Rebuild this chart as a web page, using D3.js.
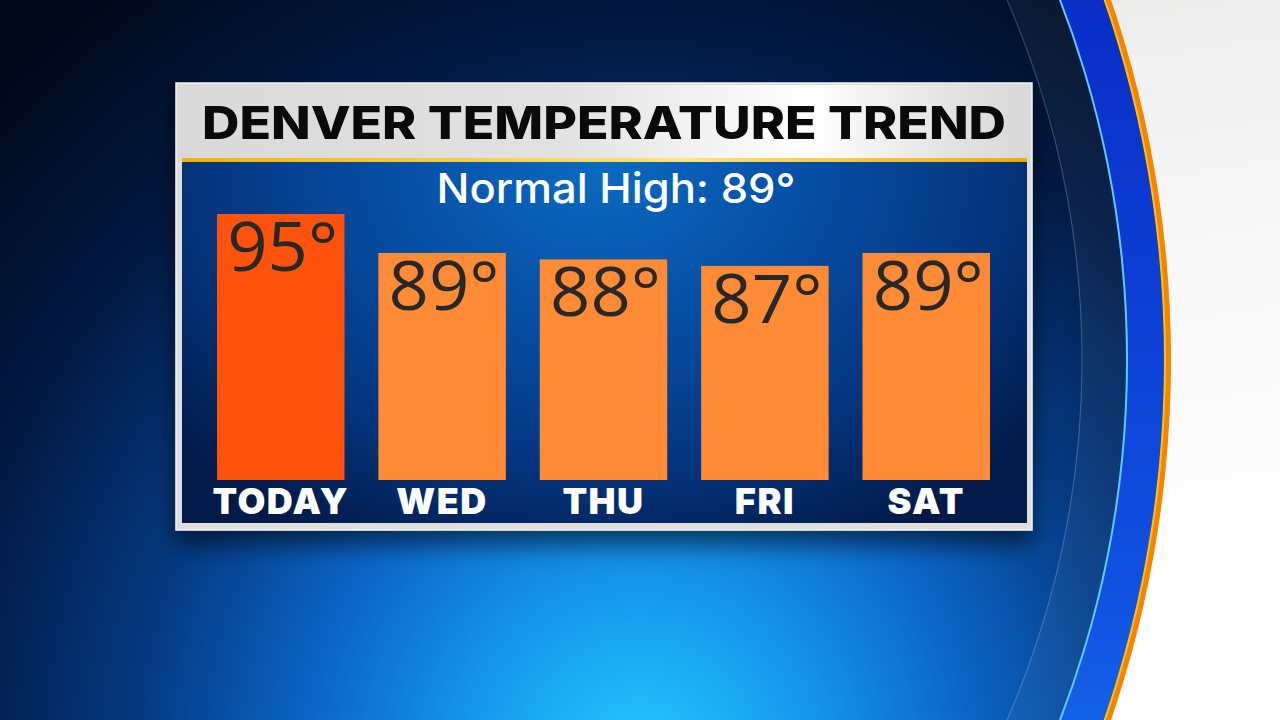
<!DOCTYPE html>
<html>
<head>
<meta charset="utf-8">
<script src="https://cdn.jsdelivr.net/npm/d3@7"></script>
<style>
  html, body { margin: 0; padding: 0; background: #000; overflow: hidden; }
  svg { display: block; }
</style>
</head>
<body>
<svg id="chart" width="1280" height="720"></svg>
<script>
// ---- data ----
const titleText = "DENVER TEMPERATURE TREND";
const normalHigh = 89;
const days = ["TODAY", "WED", "THU", "FRI", "SAT"];
const highs = [95, 89, 88, 87, 89];

const W = 1280, H = 720;
const svg = d3.select("#chart");
const defs = svg.append("defs");

// ---- gradients ----
const bg = defs.append("radialGradient").attr("id", "bgGrad")
  .attr("gradientUnits", "userSpaceOnUse")
  .attr("cx", 640).attr("cy", 770).attr("r", 960)
  .attr("gradientTransform", "translate(640,770) scale(0.95,1) translate(-640,-770)");
[[0, "#27ccff"], [0.16, "#17a0f0"], [0.36, "#0b66c8"], [0.55, "#053a82"], [0.76, "#021a44"], [1, "#01081a"]]
  .forEach(([o, c]) => bg.append("stop").attr("offset", o).attr("stop-color", c));

const white = defs.append("linearGradient").attr("id", "whiteGrad")
  .attr("x1", 0).attr("y1", 0).attr("x2", 0.3).attr("y2", 1);
[[0, "#e4e4e2"], [0.5, "#f6f6f6"], [1, "#ffffff"]]
  .forEach(([o, c]) => white.append("stop").attr("offset", o).attr("stop-color", c));

const band = defs.append("linearGradient").attr("id", "bandGrad")
  .attr("x1", 0).attr("y1", 0).attr("x2", 0).attr("y2", 1);
[[0, "#0520a8"], [0.35, "#0a2fc8"], [0.6, "#1050e0"], [0.8, "#1a86f2"], [1, "#22c4ff"]]
  .forEach(([o, c]) => band.append("stop").attr("offset", o).attr("stop-color", c));

const panelG = defs.append("radialGradient").attr("id", "panelGrad")
  .attr("gradientUnits", "userSpaceOnUse")
  .attr("cx", 600).attr("cy", 170).attr("r", 560)
  .attr("gradientTransform", "translate(600,170) scale(1,0.75) translate(-600,-170)");
[[0, "#0a6ac0"], [0.35, "#0650a6"], [0.7, "#043680"], [1, "#021a48"]]
  .forEach(([o, c]) => panelG.append("stop").attr("offset", o).attr("stop-color", c));

const titleG = defs.append("linearGradient").attr("id", "titleGrad")
  .attr("x1", 0).attr("y1", 0).attr("x2", 1).attr("y2", 0);
[[0, "#d9d9d9"], [0.45, "#e2e2e2"], [0.74, "#ffffff"], [0.9, "#e4e4e4"], [1, "#d8d8d8"]]
  .forEach(([o, c]) => titleG.append("stop").attr("offset", o).attr("stop-color", c));

const goldG = defs.append("linearGradient").attr("id", "goldGrad")
  .attr("x1", 0).attr("y1", 0).attr("x2", 1).attr("y2", 0);
[[0, "#f2b400"], [0.6, "#ffe37a"], [0.85, "#f5c030"], [1, "#eeaa00"]]
  .forEach(([o, c]) => goldG.append("stop").attr("offset", o).attr("stop-color", c));

const shadow = defs.append("filter").attr("id", "shadow")
  .attr("x", -0.1).attr("y", -0.1).attr("width", 1.2).attr("height", 1.3);
shadow.append("feGaussianBlur").attr("in", "SourceAlpha").attr("stdDeviation", 12);
shadow.append("feOffset").attr("dy", 14).attr("result", "b");
shadow.append("feComponentTransfer").append("feFuncA").attr("type", "linear").attr("slope", 0.55);
const merge = shadow.append("feMerge");
merge.append("feMergeNode");
merge.append("feMergeNode").attr("in", "SourceGraphic");

// ---- background with ring ----
svg.append("rect").attr("width", W).attr("height", H).attr("fill", "url(#whiteGrad)");
svg.append("circle").attr("cx", 60).attr("cy", 360).attr("r", 1111).attr("fill", "#f28600");
svg.append("circle").attr("cx", 60).attr("cy", 360).attr("r", 1106).attr("fill", "#ffc20a");
svg.append("circle").attr("cx", 60).attr("cy", 360).attr("r", 1104).attr("fill", "url(#bandGrad)");
svg.append("circle").attr("cx", 126).attr("cy", 360).attr("r", 1002).attr("fill", "#5cc8ff");
svg.append("circle").attr("cx", 126).attr("cy", 360).attr("r", 1000).attr("fill", "url(#bgGrad)");
svg.append("circle").attr("cx", 126).attr("cy", 360).attr("r", 1000).attr("fill", "rgba(255,255,255,0.045)");
svg.append("circle").attr("cx", 180).attr("cy", 360).attr("r", 902)
  .attr("fill", "url(#bgGrad)").attr("stroke", "rgba(255,255,255,0.2)").attr("stroke-width", 1.2);

// ---- panel ----
const panel = { x0: 176, y0: 83, x1: 1032, y1: 530 };
const inner = { x0: 182, y0: 162, x1: 1027, y1: 523 };

svg.append("rect")
  .attr("x", panel.x0).attr("y", panel.y0)
  .attr("width", panel.x1 - panel.x0).attr("height", panel.y1 - panel.y0)
  .attr("fill", "#dedede").attr("stroke", "#f2f2f2").attr("stroke-width", 1.5)
  .attr("filter", "url(#shadow)");
svg.append("rect")
  .attr("x", panel.x0 + 2).attr("y", panel.y0 + 2)
  .attr("width", panel.x1 - panel.x0 - 4).attr("height", inner.y0 - panel.y0 - 2)
  .attr("fill", "url(#titleGrad)");
svg.append("rect")
  .attr("x", inner.x0).attr("y", inner.y0 - 4)
  .attr("width", inner.x1 - inner.x0).attr("height", 4)
  .attr("fill", "url(#goldGrad)");
svg.append("rect")
  .attr("x", inner.x0).attr("y", inner.y0)
  .attr("width", inner.x1 - inner.x0).attr("height", inner.y1 - inner.y0)
  .attr("fill", "url(#panelGrad)");

// title
svg.append("text")
  .attr("x", (panel.x0 + panel.x1) / 2).attr("y", 139)
  .attr("text-anchor", "middle")
  .attr("font-family", "Inter, 'DejaVu Sans', sans-serif")
  .attr("font-weight", 800).attr("font-size", 45)
  .attr("fill", "#0a0a0a")
  .attr("textLength", 804).attr("lengthAdjust", "spacingAndGlyphs")
  .text(titleText);

// subtitle
svg.append("text")
  .attr("x", 616).attr("y", 203)
  .attr("text-anchor", "middle")
  .attr("font-family", "Inter, 'Open Sans', sans-serif")
  .attr("font-weight", 500).attr("font-size", 41)
  .attr("fill", "#ffffff")
  .attr("textLength", 359).attr("lengthAdjust", "spacingAndGlyphs")
  .text(`Normal High: ${normalHigh}°`);

// ---- scales ----
const x = d3.scaleBand().domain(days).range([217, 990]).paddingInner(0.21).paddingOuter(0);
const y = d3.scaleLinear().domain([54, 95]).range([480, 214]);

const g = svg.append("g");
g.selectAll("rect.bar").data(days).join("rect")
  .attr("class", "bar")
  .attr("x", d => x(d))
  .attr("y", (d, i) => y(highs[i]))
  .attr("width", x.bandwidth())
  .attr("height", (d, i) => y(y.domain()[0]) - y(highs[i]))
  .attr("fill", (d, i) => i === 0 ? "#ff530d" : "#ff8b37");

g.selectAll("text.val").data(days).join("text")
  .attr("class", "val")
  .attr("x", d => x(d) + x.bandwidth() / 2 + 2)
  .attr("y", (d, i) => y(highs[i]) + 57)
  .attr("text-anchor", "middle")
  .attr("font-family", "'Open Sans', 'Noto Sans', sans-serif")
  .attr("font-weight", 400).attr("font-size", 67)
  .attr("fill", "#282828")
  .attr("textLength", 111).attr("lengthAdjust", "spacingAndGlyphs")
  .text((d, i) => `${highs[i]}°`);

// x axis labels
const xAxis = d3.axisBottom(x).tickSize(0).tickPadding(0);
const ax = svg.append("g").attr("transform", "translate(0,514)").call(xAxis);
ax.select(".domain").remove();
ax.selectAll("text")
  .attr("y", 0).attr("dy", 0)
  .attr("font-family", "Inter, 'DejaVu Sans', sans-serif")
  .attr("font-weight", 900).attr("font-size", 36)
  .attr("letter-spacing", 1.5)
  .attr("fill", "#ffffff");
</script>
</body>
</html>
